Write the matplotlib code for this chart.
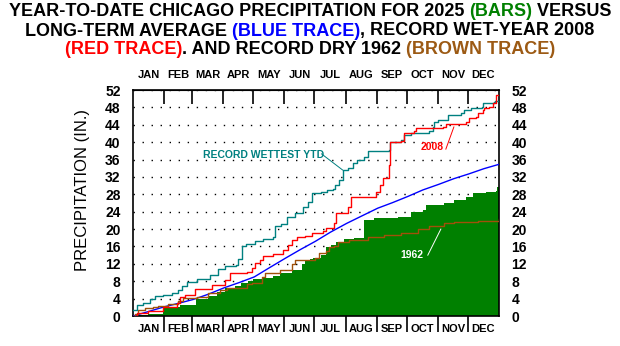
import matplotlib
matplotlib.use("Agg")
import matplotlib.pyplot as plt
from matplotlib.offsetbox import HPacker, TextArea, AnnotationBbox

plt.rcParams["font.family"] = ["Liberation Sans", "DejaVu Sans"]

# ---- data (day of year from Jan 1, cumulative inches) ----
months = ["JAN", "FEB", "MAR", "APR", "MAY", "JUN",
          "JUL", "AUG", "SEP", "OCT", "NOV", "DEC"]
month_edges = [0, 31, 59, 90, 120, 151, 181, 212, 243, 273, 304, 334, 365]
y_ticks = list(range(0, 53, 4))

days_2025 = [0, 5, 15, 30, 47, 63, 75, 84, 92, 102, 108, 115, 120, 129, 140, 147,
             159, 169, 172, 177, 180, 187, 192, 197, 202, 210, 220, 230, 240, 264,
             277, 289, 292, 310, 320, 332, 339, 352, 362, 363, 365]
vals_2025 = [0.0, 0.2, 0.4, 2.0, 2.5, 3.8, 4.6, 5.5, 6.4, 7.0, 7.6, 8.0, 8.5, 8.7, 9.2, 9.9,
             10.6, 12.0, 12.9, 13.1, 13.3, 14.0, 15.9, 16.3, 17.0, 17.7, 18.0, 22.1, 22.5, 22.8,
             23.9, 24.4, 25.5, 26.0, 26.7, 27.4, 28.3, 28.5, 28.8, 29.7, 29.7]

days_avg = [0, 15, 31, 45, 60, 75, 91, 106, 121, 136, 152, 167, 182,
            197, 213, 228, 244, 259, 274, 289, 305, 320, 335, 350, 365]
vals_avg = [0.0, 1.0, 2.1, 2.9, 3.8, 5.0, 6.5, 7.7, 9.0, 11.1, 13.3, 15.3, 17.2,
            19.3, 21.3, 23.0, 24.8, 26.1, 27.5, 29.0, 30.3, 31.6, 32.7, 33.9, 34.9]

days_2008 = [0, 4, 15, 30, 44, 47, 52, 62, 79, 92, 97, 114, 119, 122, 127, 130, 140,
             150, 155, 159, 164, 172, 179, 189, 192, 200, 202, 214, 217, 242, 246, 249,
             255, 256, 267, 270, 280, 282, 309, 312, 332, 335, 342, 344, 349, 350, 355,
             359, 362, 365]
vals_2008 = [0.0, 0.6, 1.2, 2.0, 3.0, 4.4, 4.8, 6.2, 7.1, 8.3, 9.9, 10.1, 11.0, 12.2, 12.9, 13.8, 14.3,
             15.2, 16.3, 17.5, 18.2, 18.4, 19.1, 19.5, 20.3, 21.4, 23.7, 25.0, 27.4, 28.5, 30.1, 31.8,
             34.7, 40.0, 40.3, 42.1, 42.6, 43.3, 43.5, 44.2, 44.6, 45.5, 45.8, 46.7, 47.4, 47.9, 48.1,
             49.0, 50.8, 50.8]

days_1962 = [0, 2, 5, 12, 20, 25, 35, 45, 50, 64, 75, 87, 94, 114, 119, 129, 132, 147,
             159, 162, 182, 185, 192, 195, 200, 204, 215, 234, 250, 267, 284, 295, 310,
             320, 344, 365]
vals_1962 = [0.0, 0.5, 1.4, 1.8, 2.0, 2.3, 2.8, 3.5, 4.1, 4.4, 5.3, 6.0, 6.5, 7.4, 7.6, 9.0, 9.9, 10.6,
             12.0, 12.9, 13.3, 14.5, 15.0, 15.9, 16.1, 17.0, 17.5, 18.2, 18.6, 19.1, 20.0, 20.6, 21.4,
             21.6, 21.9, 22.3]

days_rec = [0, 4, 10, 17, 22, 30, 39, 45, 49, 54, 64, 77, 85, 92, 103, 105, 109, 113, 122, 130,
            140, 142, 148, 154, 162, 170, 175, 179, 187, 193, 199, 201, 205, 209, 214, 219, 223,
            230, 234, 255, 256, 267, 270, 277, 295, 299, 300, 304, 314, 327, 330, 337, 348, 349,
            360, 361, 365]
vals_rec = [1.4, 2.5, 3.0, 4.0, 4.5, 4.9, 5.4, 6.0, 6.9, 7.8, 8.6, 9.5, 10.8, 11.5, 11.7, 13.1, 16.2,
            16.6, 17.3, 17.8, 18.2, 20.6, 21.2, 22.8, 23.8, 25.0, 26.2, 28.3, 28.6, 28.9, 29.2, 30.1,
            31.3, 33.5, 34.0, 35.2, 35.9, 36.6, 38.0, 38.2, 40.0, 40.5, 41.6, 42.1, 42.6, 43.5, 44.6,
            45.1, 46.2, 46.7, 47.4, 47.9, 48.0, 49.0, 49.2, 49.5, 49.5]

GREEN = "#008000"
BLUE = "#0000FF"
RED = "#FF0000"
BROWN = "#A0500A"
TEAL = "#008080"

fig = plt.figure(figsize=(6.2, 3.46), dpi=100)
ax = fig.add_axes([133 / 620, 30 / 346, 366 / 620, 226 / 346])

ax.fill_between(days_2025, vals_2025, step="post", color=GREEN, linewidth=0, zorder=2)
ax.plot(days_avg, vals_avg, color=BLUE, lw=1.0, zorder=3)
ax.step(days_1962, vals_1962, where="post", color=BROWN, lw=1.0, zorder=3)
ax.step(days_rec, vals_rec, where="post", color=TEAL, lw=1.0, zorder=3)
ax.step(days_2008, vals_2008, where="post", color=RED, lw=1.0, zorder=4)

ax.set_xlim(0, 365)
ax.set_ylim(0, 52)

# y axis: labels on both sides, no tick marks, dotted grid
ax.set_yticks(y_ticks)
ax.tick_params(axis="y", which="both", length=0, left=True, right=True,
               labelleft=True, labelright=True, labelsize=10, pad=9)
for lab in ax.get_yticklabels():
    lab.set_fontweight("bold")
ax.grid(axis="y", color="black", linestyle=(0, (1, 5.5)), linewidth=1.0)
ax.set_axisbelow(True)

# x axis: month boundary ticks, month names centred
mids = [(a + b) / 2 for a, b in zip(month_edges[:-1], month_edges[1:])]
ax.set_xticks(month_edges[1:-1])
ax.set_xticklabels([])
ax.tick_params(axis="x", which="major", direction="out", length=11.5, width=1.2, color="black")
ax.set_xticks(mids, minor=True)
ax.set_xticklabels(months, minor=True, fontsize=8, fontweight="bold")
ax.tick_params(axis="x", which="minor", length=0, pad=6)

top = ax.secondary_xaxis("top")
top.set_xticks(month_edges[1:-1])
top.set_xticklabels([])
top.tick_params(axis="x", which="major", direction="in", length=10, width=1.2)
top.set_xticks(mids, minor=True)
top.set_xticklabels(months, minor=True, fontsize=8, fontweight="bold")
top.tick_params(axis="x", which="minor", length=0, pad=7)

for sp in ax.spines.values():
    sp.set_linewidth(1.2)

fig.text(83 / 620, 1 - 190 / 346, "PRECIPITATION (IN.)", rotation=90,
         ha="center", va="center", fontsize=12)

# annotations
ax.text(70, 37.0, "RECORD WETTEST YTD", color=TEAL, fontsize=7.5, fontweight="bold",
        va="center", ha="left", zorder=5)
ax.plot([188, 209], [37.3, 33.6], color=TEAL, lw=0.7, zorder=5)
ax.text(298, 38.9, "2008", color=RED, fontsize=7.5, fontweight="bold",
        va="center", ha="center", zorder=5)
ax.plot([312, 320], [38.4, 43.5], color=RED, lw=0.7, zorder=5)
ax.text(278, 14.0, "1962", color="white", fontsize=7.5, fontweight="bold",
        va="center", ha="center", zorder=5)
ax.plot([294, 307], [14.0, 20.0], color="white", lw=0.7, zorder=5)

# multi-coloured title
title_lines = [
    [("YEAR-TO-DATE CHICAGO PRECIPITATION FOR 2025 ", "black"), ("(BARS)", GREEN), (" VERSUS", "black")],
    [("LONG-TERM AVERAGE ", "black"), ("(BLUE TRACE)", BLUE), (", RECORD WET-YEAR 2008", "black")],
    [("(RED TRACE)", RED), (". AND RECORD DRY 1962 ", "black"), ("(BROWN TRACE)", "#9C5A14")],
]
title_y = [12, 31, 50]
for parts, yy in zip(title_lines, title_y):
    boxes = [TextArea(s, textprops=dict(color=c, fontsize=13, fontweight="bold"))
             for s, c in parts]
    pack = HPacker(children=boxes, align="baseline", pad=0, sep=0)
    ab = AnnotationBbox(pack, (0.5, 1 - yy / 346), xycoords="figure fraction",
                        frameon=False, box_alignment=(0.5, 0.5), pad=0)
    fig.add_artist(ab)

fig.savefig("out.png", dpi=100)
